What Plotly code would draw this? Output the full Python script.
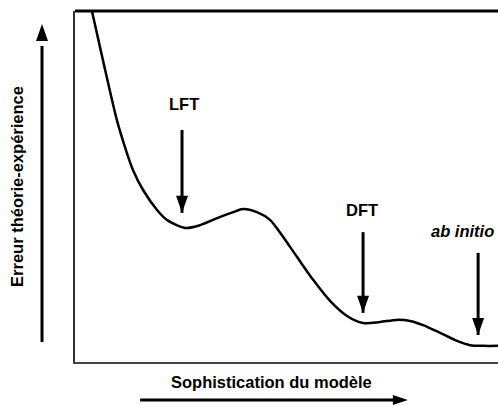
import plotly.graph_objects as go

# Curve: model sophistication (x) vs theory-experiment error (y), arbitrary units
soph = [0.40, 0.66, 0.99, 1.18, 1.37, 1.61, 1.94, 2.17, 2.60, 2.96, 3.36, 3.74, 3.97,
        4.30, 4.61, 4.85, 5.25, 5.63, 6.03, 6.43, 6.81, 7.21, 7.61, 7.92, 8.23, 8.63,
        9.03, 9.34, 9.65, 10.0]
err = [10.0, 8.60, 6.89, 6.13, 5.47, 4.90, 4.33, 4.05, 3.82, 3.90, 4.10, 4.27, 4.36,
       4.27, 4.05, 3.68, 2.99, 2.34, 1.74, 1.31, 1.11, 1.14, 1.20, 1.17, 1.05, 0.83,
       0.60, 0.48, 0.46, 0.46]

# Method labels and their arrows
methods = ["LFT", "DFT", "<i>ab initio</i>"]
label_x = [2.58, 6.78, 9.15]
label_y = [7.35, 4.33, 3.72]
arrow_x = [2.53, 6.81, 9.53]
arrow_tail_y = [6.61, 3.70, 3.11]
arrow_tip_y = [4.25, 1.40, 0.77]

x_title = "Sophistication du modèle"
y_title = "Erreur théorie-expérience"

FONT = "Liberation Sans, Arial, sans-serif"
FS = 16.5

fig = go.Figure()
fig.add_trace(go.Scatter(x=soph, y=err, mode="lines",
                         line=dict(color="black", width=2.5, shape="spline", smoothing=0.8),
                         hoverinfo="skip", showlegend=False))

shapes = []
annotations = []

for name, lx, ly, ax_, ty, hy in zip(methods, label_x, label_y, arrow_x, arrow_tail_y, arrow_tip_y):
    annotations.append(dict(x=lx, y=ly, xref="x", yref="y", text=name, showarrow=False,
                            xanchor="center", yanchor="middle",
                            font=dict(family=FONT, size=FS, color="black", weight="bold")))
    shapes.append(dict(type="line", xref="x", yref="y", x0=ax_, x1=ax_, y0=ty, y1=hy,
                       line=dict(color="black", width=3)))
    shapes.append(dict(type="path", xref="x", yref="y", xsizemode="pixel", ysizemode="pixel",
                       xanchor=ax_, yanchor=hy, path="M-6,17 L6,17 L0,0 Z",
                       fillcolor="black", line=dict(width=0)))

# Axis arrows outside the plot (paper coordinates)
# Y arrow (upwards)
shapes.append(dict(type="line", xref="paper", yref="paper", x0=-0.078, x1=-0.078,
                   y0=0.057, y1=0.90, line=dict(color="black", width=3)))
shapes.append(dict(type="path", xref="paper", yref="paper", xsizemode="pixel", ysizemode="pixel",
                   xanchor=-0.078, yanchor=0.963, path="M-6,-17 L6,-17 L0,0 Z",
                   fillcolor="black", line=dict(width=0)))
# X arrow (rightwards)
shapes.append(dict(type="line", xref="paper", yref="paper", x0=0.154, x1=0.76,
                   y0=-0.108, y1=-0.108, line=dict(color="black", width=3)))
shapes.append(dict(type="path", xref="paper", yref="paper", xsizemode="pixel", ysizemode="pixel",
                   xanchor=0.787, yanchor=-0.108, path="M-15,-5 L-15,5 L0,0 Z",
                   fillcolor="black", line=dict(width=0)))

# Top frame line
shapes.append(dict(type="line", xref="paper", yref="paper", x0=0, x1=1, y0=1, y1=1,
                   line=dict(color="black", width=3)))

annotations.append(dict(x=0.465, y=-0.058, xref="paper", yref="paper", text=x_title,
                        showarrow=False, xanchor="center", yanchor="middle",
                        font=dict(family=FONT, size=FS, color="black", weight="bold")))
annotations.append(dict(x=-0.137, y=0.499, xref="paper", yref="paper", text=y_title,
                        textangle=-90, showarrow=False, xanchor="center", yanchor="middle",
                        font=dict(family=FONT, size=FS, color="black", weight="bold")))

fig.update_layout(
    width=498, height=405,
    margin=dict(l=75, r=0, t=11, b=43),
    paper_bgcolor="white", plot_bgcolor="white",
    shapes=shapes, annotations=annotations,
    showlegend=False,
    xaxis=dict(range=[0, 10], showgrid=False, zeroline=False, showticklabels=False,
               ticks="", showline=True, linecolor="#444", linewidth=2, fixedrange=True),
    yaxis=dict(range=[0, 10], showgrid=False, zeroline=False, showticklabels=False,
               ticks="", showline=True, linecolor="#333", linewidth=2, fixedrange=True),
)

fig.write_html("out.html", config={"displayModeBar": False},
               post_script="document.body.style.margin='0';document.body.style.overflow='hidden';")
